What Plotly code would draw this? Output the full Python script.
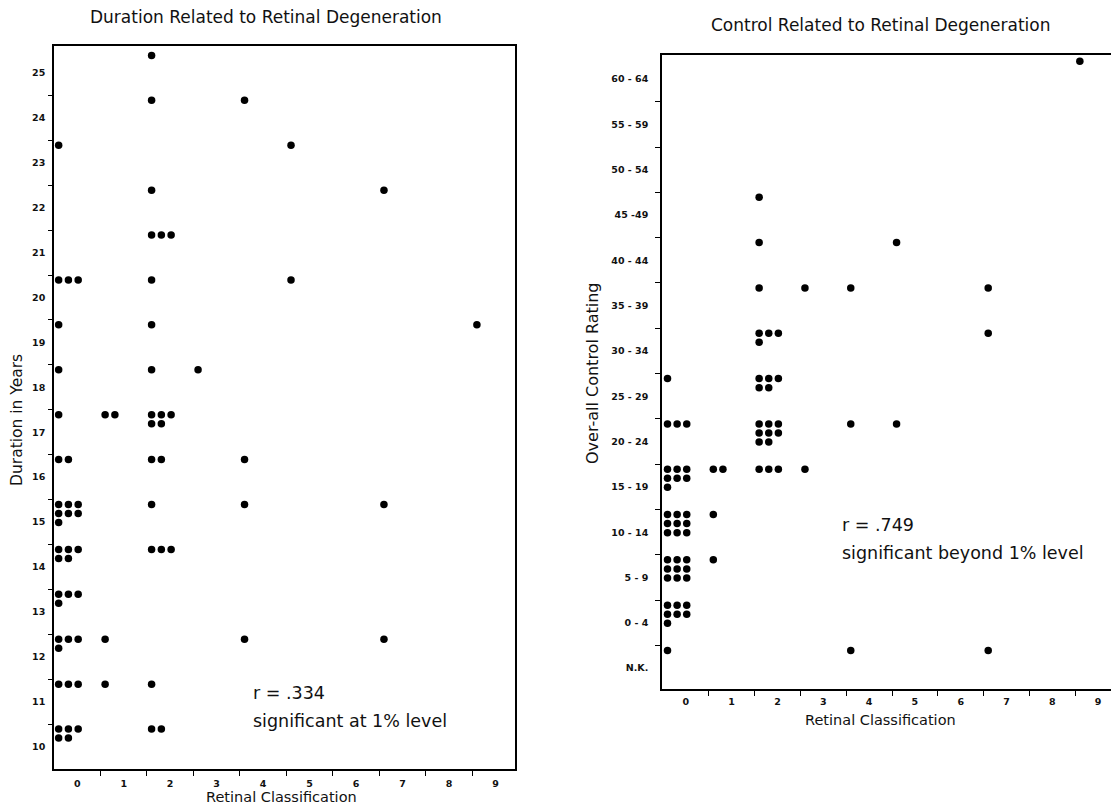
import plotly.graph_objects as go

W, H = 1111, 805

# ---------------- Left chart: Duration vs Retinal classification ----------------
dur_class = [0, 0, 0, 0, 0, 0, 0, 0, 0, 0, 0, 0,
             1, 1, 1,
             2, 2, 2, 2, 2, 2, 2, 2, 2, 2, 2, 2, 2,
             3,
             4, 4, 4, 4,
             5, 5,
             7, 7, 7,
             9]
dur_years = [23, 20, 19, 18, 17, 16, 15, 14, 13, 12, 11, 10,
             17, 12, 11,
             25, 24, 22, 21, 20, 19, 18, 17, 16, 15, 14, 11, 10,
             18,
             24, 16, 15, 12,
             23, 20,
             22, 15, 12,
             19]
dur_count = [1, 3, 1, 1, 1, 2, 7, 5, 4, 4, 3, 5,
             2, 1, 1,
             1, 1, 1, 3, 1, 1, 1, 5, 2, 1, 3, 1, 2,
             1,
             1, 1, 1, 1,
             1, 1,
             1, 1, 1,
             1]
dur_ticks = list(range(10, 26))
class_ticks = list(range(0, 10))

# ---------------- Right chart: Control rating vs Retinal classification ----------------
ctrl_labels = ["N.K.", "0 - 4", "5 - 9", "10 - 14", "15 - 19", "20 - 24", "25 - 29",
               "30 - 34", "35 - 39", "40 - 44", "45 -49", "50 - 54", "55 - 59", "60 - 64"]
ctrl_class = [0, 0, 0, 0, 0, 0, 0,
              1, 1, 1,
              2, 2, 2, 2, 2, 2, 2,
              3, 3,
              4, 4, 4,
              5, 5,
              7, 7, 7,
              9]
ctrl_bin = ["25 - 29", "20 - 24", "15 - 19", "10 - 14", "5 - 9", "0 - 4", "N.K.",
            "15 - 19", "10 - 14", "5 - 9",
            "45 -49", "40 - 44", "35 - 39", "30 - 34", "25 - 29", "20 - 24", "15 - 19",
            "35 - 39", "15 - 19",
            "35 - 39", "20 - 24", "N.K.",
            "40 - 44", "20 - 24",
            "35 - 39", "30 - 34", "N.K.",
            "60 - 64"]
ctrl_count = [1, 3, 7, 9, 9, 7, 1,
              2, 1, 1,
              1, 1, 1, 4, 5, 8, 3,
              1, 1,
              1, 1, 1,
              1, 1,
              1, 1, 1,
              1]


def stack(classes, bins, counts, x_off=0.1, y_off=0.11, dx=0.21, dy=0.2, per_row=3):
    xs, ys = [], []
    for c, b, n in zip(classes, bins, counts):
        for k in range(n):
            r, col = divmod(k, per_row)
            xs.append(c - 0.5 + x_off + col * dx)
            ys.append(b + 0.5 - y_off - r * dy)
    return xs, ys


lx, ly = stack(dur_class, dur_years, dur_count)
ctrl_idx = [ctrl_labels.index(b) for b in ctrl_bin]
rx, ry = stack(ctrl_class, ctrl_idx, ctrl_count)

fig = go.Figure()
mk = dict(color="black", size=7.5, symbol="circle")
fig.add_trace(go.Scatter(x=lx, y=ly, mode="markers", marker=mk, xaxis="x", yaxis="y",
                         showlegend=False, hoverinfo="skip"))
fig.add_trace(go.Scatter(x=rx, y=ry, mode="markers", marker=mk, xaxis="x2", yaxis="y2",
                         showlegend=False, hoverinfo="skip"))


def px(x):
    return x / W


def py(y):
    return 1 - y / H


tickfont = dict(family="DejaVu Sans", size=9.5, color="#111", weight="bold")
common = dict(showgrid=False, zeroline=False, linecolor="black", linewidth=1.6,
              showline=True, ticks="", tickfont=tickfont, fixedrange=True)

fig.update_layout(
    width=W, height=H,
    margin=dict(l=0, r=0, t=0, b=0),
    paper_bgcolor="white", plot_bgcolor="white",
    xaxis=dict(domain=[px(54), px(515)], range=[-0.5, 9.42], anchor="y",
               tickmode="array", tickvals=class_ticks, mirror=True,
               ticklabelstandoff=5,
               minor=dict(tickmode="array", tickvals=[i + 0.5 for i in range(9)],
                          ticks="outside", ticklen=5, tickwidth=1.3, tickcolor="black"),
               **common),
    yaxis=dict(domain=[py(769), py(46)], range=[9.5, 25.6], anchor="x",
               tickmode="array", tickvals=dur_ticks, mirror=True,
               ticklabelstandoff=5,
               minor=dict(tickmode="array", tickvals=[v + 0.5 for v in range(10, 25)],
                          ticks="outside", ticklen=4, tickwidth=1.3, tickcolor="black"),
               **common),
    xaxis2=dict(domain=[px(662), 1.0], range=[-0.52, 9.28], anchor="y2",
                tickmode="array", tickvals=class_ticks, mirror=True,
                ticklabelstandoff=3,
                minor=dict(tickmode="array", tickvals=[i + 0.5 for i in range(9)],
                           ticks="outside", ticklen=5, tickwidth=1.3, tickcolor="black"),
                **common),
    yaxis2=dict(domain=[py(689), py(55)], range=[-0.46, 13.53], anchor="x2",
                tickmode="array", tickvals=list(range(len(ctrl_labels))), ticktext=ctrl_labels,
                mirror=False, ticklabelstandoff=10,
                minor=dict(tickmode="array", tickvals=[i + 0.5 for i in range(13)],
                           ticks="outside", ticklen=5, tickwidth=1.3, tickcolor="black"),
                **common),
)

textfont = "DejaVu Sans"
ann = [
    dict(text="Duration Related to Retinal Degeneration", x=px(266), y=py(17), size=17),
    dict(text="Control Related to Retinal Degeneration", x=px(881), y=py(25), size=17),
    dict(text="Retinal Classification", x=px(281), y=py(797), size=14.5),
    dict(text="Retinal Classification", x=px(880), y=py(720), size=14.5),
]
for a in ann:
    fig.add_annotation(text=a["text"], x=a["x"], y=a["y"], xref="paper", yref="paper",
                       showarrow=False, xanchor="center", yanchor="middle",
                       font=dict(family=textfont, size=a["size"], color="#111"))

fig.add_annotation(text="Duration in Years", x=px(17), y=py(420), xref="paper", yref="paper",
                   showarrow=False, textangle=-90, xanchor="center", yanchor="middle",
                   font=dict(family=textfont, size=15.5, color="#111"))
fig.add_annotation(text="Over-all Control Rating", x=px(592), y=py(373), xref="paper", yref="paper",
                   showarrow=False, textangle=-90, xanchor="center", yanchor="middle",
                   font=dict(family=textfont, size=16, color="#111"))

stats = [
    ("r = .334", 251, 693, 17.5),
    ("significant at 1% level", 251, 721, 17.5),
    ("r = .749", 840, 525, 17.5),
    ("significant beyond 1% level", 840, 553, 17.5),
]
for t, x, y, s in stats:
    fig.add_annotation(text=t, x=px(x), y=py(y), xref="paper", yref="paper",
                       showarrow=False, xanchor="left", yanchor="middle",
                       font=dict(family=textfont, size=s, color="#111"))

fig.write_html("out.html", config={"displayModeBar": False},
               post_script="document.body.style.margin='0';document.body.style.overflow='hidden';")
